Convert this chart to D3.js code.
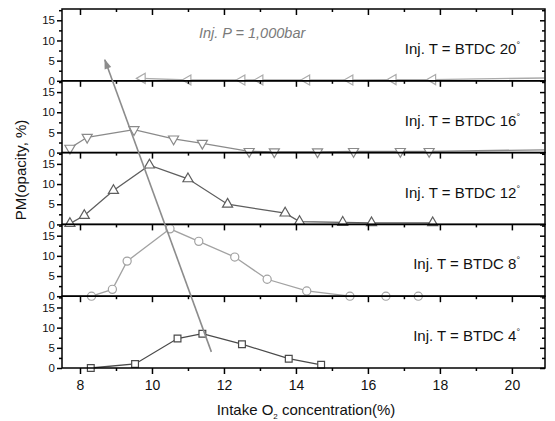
<!DOCTYPE html>
<html>
<head>
<meta charset="utf-8">
<script src="https://cdn.jsdelivr.net/npm/d3@7"></script>
<style>
    body { margin: 0; background: #fff; }
    text { font-family: "Liberation Sans", Arial, sans-serif; }
</style>
</head>
<body>
<svg id="chart" width="555" height="421"></svg>
<script>
// values, one panel per injection timing (top to bottom)
const timings = ['20', '16', '12', '8', '4'];

const o2_20 = [9.73, 11.0, 12.5, 13.0, 14.3, 15.5, 16.7, 17.8, 20.9];
const pm_20 = [0.6, 0.2, 0.2, 0.2, 0.2, 0.2, 0.3, 0.3, 0.7];

const o2_16 = [7.72, 8.2, 9.5, 10.6, 11.4, 12.7, 13.4, 14.6, 15.6, 16.9, 17.7, 20.9];
const pm_16 = [1.1, 3.8, 5.7, 3.4, 2.3, 0.3, 0.2, 0.2, 0.3, 0.3, 0.3, 0.7];

const o2_12 = [7.72, 8.12, 8.93, 9.93, 11.0, 12.1, 13.7, 14.1, 15.3, 16.1, 17.8];
const pm_12 = [0.2, 2.2, 8.4, 14.7, 11.3, 5.0, 2.8, 0.7, 0.5, 0.4, 0.4];

const o2_8 = [8.32, 8.9, 9.31, 10.5, 11.3, 12.3, 13.2, 14.3, 15.5, 16.5, 17.4];
const pm_8 = [0, 1.7, 8.7, 16.7, 13.6, 9.7, 4.2, 1.3, 0, 0, 0];

const o2_4 = [8.3, 9.53, 10.71, 11.4, 12.5, 13.8, 14.7];
const pm_4 = [0, 1.0, 7.3, 8.5, 5.9, 2.3, 0.8];

// trend arrow: from (O2, PM) in the BTDC 4 panel to (O2, PM) in the BTDC 20 panel
const arrowFrom = { o2: 11.65, pm: 4.0, panel: 4 };
const arrowTo = { o2: 8.69, pm: 5.2, panel: 0 };

const xTicks = [8, 10, 12, 14, 16, 18, 20];
const xMinor = [9, 11, 13, 15, 17, 19];
const yTicks = [0, 5, 10, 15];
const yMinor = [2.5, 7.5, 12.5, 17.5];

const panels = [
    { o2: o2_20, pm: pm_20, shape: 'left',   color: '#ababab' },
    { o2: o2_16, pm: pm_16, shape: 'down',   color: '#8a8a8a' },
    { o2: o2_12, pm: pm_12, shape: 'up',     color: '#5e5e5e' },
    { o2: o2_8,  pm: pm_8,  shape: 'circle', color: '#a2a2a2' },
    { o2: o2_4,  pm: pm_4,  shape: 'square', color: '#4a4a4a' }
];

const plotLeft = 62, plotRight = 545, plotTop = 9, plotBottom = 368;
const panelH = (plotBottom - plotTop) / panels.length;

const svg = d3.select('#chart');

const x = d3.scaleLinear().domain([7.5, 20.92]).range([plotLeft, plotRight]);

function yScale (i) {
    let y0 = plotTop + i * panelH;
    return d3.scaleLinear().domain([0, 17.8]).range([y0 + panelH, y0]);
}

function symbolFor (shape) {
    if (shape === 'circle') return d3.symbol(d3.symbolCircle, 52)();
    if (shape === 'square') return d3.symbol(d3.symbolSquare, 46)();
    return d3.symbol(d3.symbolTriangle, 44)();
}

function rotationFor (shape) {
    if (shape === 'down') return 180;
    if (shape === 'left') return -90;
    return 0;
}

svg.append('defs').append('marker')
    .attr('id', 'head')
    .attr('markerUnits', 'userSpaceOnUse')
    .attr('viewBox', '0 -5 10 10')
    .attr('refX', 9)
    .attr('refY', 0)
    .attr('markerWidth', 11)
    .attr('markerHeight', 10)
    .attr('orient', 'auto')
    .append('path')
    .attr('d', 'M0,-3.5L10,0L0,3.5Z')
    .attr('fill', '#8c8c8c');

panels.forEach(function (p, i) {
    let y = yScale(i);
    let g = svg.append('g');
    let pts = p.o2.map((v, k) => [v, p.pm[k]]);

    g.append('path')
        .datum(pts)
        .attr('fill', 'none')
        .attr('stroke', p.color)
        .attr('stroke-width', 1.3)
        .attr('d', d3.line().x(d => x(d[0])).y(d => y(d[1])));

    g.selectAll('.pt')
        .data(pts.filter(d => d[0] < 20.5))
        .enter().append('path')
        .attr('class', 'pt')
        .attr('d', symbolFor(p.shape))
        .attr('transform', d => 'translate(' + x(d[0]) + ',' + y(d[1]) + ') rotate(' + rotationFor(p.shape) + ')')
        .attr('fill', '#fff')
        .attr('stroke', p.color)
        .attr('stroke-width', 1.2);

    // left axis with labels
    g.append('g')
        .attr('transform', 'translate(' + plotLeft + ',0)')
        .call(d3.axisLeft(y).tickValues(yTicks).tickSize(5).tickPadding(2))
        .call(a => a.select('.domain').remove())
        .call(a => a.selectAll('text').attr('font-size', 11.5).attr('fill', '#111'));
    g.append('g')
        .attr('transform', 'translate(' + plotLeft + ',0)')
        .call(d3.axisLeft(y).tickValues(yMinor).tickSize(3).tickFormat(''))
        .call(a => a.select('.domain').remove());

    // right axis, ticks pointing in
    g.append('g')
        .attr('transform', 'translate(' + plotRight + ',0)')
        .call(d3.axisLeft(y).tickValues(yTicks).tickSize(5).tickFormat(''))
        .call(a => a.select('.domain').remove());
    g.append('g')
        .attr('transform', 'translate(' + plotRight + ',0)')
        .call(d3.axisLeft(y).tickValues(yMinor).tickSize(3).tickFormat(''))
        .call(a => a.select('.domain').remove());

    // top ticks pointing down into the panel
    let y0 = y.range()[1];
    g.append('g')
        .attr('transform', 'translate(0,' + y0 + ')')
        .call(d3.axisBottom(x).tickValues(xTicks).tickSize(6).tickFormat(''))
        .call(a => a.select('.domain').remove());
    g.append('g')
        .attr('transform', 'translate(0,' + y0 + ')')
        .call(d3.axisBottom(x).tickValues(xMinor).tickSize(3).tickFormat(''))
        .call(a => a.select('.domain').remove());

    g.append('rect')
        .attr('x', plotLeft)
        .attr('y', y0)
        .attr('width', plotRight - plotLeft)
        .attr('height', panelH)
        .attr('fill', 'none')
        .attr('stroke', '#000')
        .attr('stroke-width', 1.5);

    let label = g.append('text')
        .attr('x', 520)
        .attr('y', y0 + 45)
        .attr('text-anchor', 'end')
        .attr('font-size', 15)
        .attr('fill', '#111')
        .text('Inj. T = BTDC ' + timings[i]);
    label.append('tspan')
        .attr('dy', -6)
        .attr('font-size', 9)
        .text('°');
});

// bottom axis
svg.append('g')
    .attr('transform', 'translate(0,' + plotBottom + ')')
    .call(d3.axisBottom(x).tickValues(xTicks).tickSize(6).tickPadding(6))
    .call(a => a.select('.domain').remove())
    .call(a => a.selectAll('text').attr('font-size', 14).attr('fill', '#111'));
svg.append('g')
    .attr('transform', 'translate(0,' + plotBottom + ')')
    .call(d3.axisBottom(x).tickValues(xMinor).tickSize(3).tickFormat(''))
    .call(a => a.select('.domain').remove());

svg.selectAll('.tick line').attr('stroke', '#000').attr('stroke-width', 1.5);

// arrow
let yFrom = yScale(arrowFrom.panel), yTo = yScale(arrowTo.panel);
svg.append('line')
    .attr('x1', x(arrowFrom.o2))
    .attr('y1', yFrom(arrowFrom.pm))
    .attr('x2', x(arrowTo.o2))
    .attr('y2', yTo(arrowTo.pm))
    .attr('stroke', '#8c8c8c')
    .attr('stroke-width', 1.6)
    .attr('marker-end', 'url(#head)');

svg.append('text')
    .attr('x', 199)
    .attr('y', 38)
    .attr('font-size', 14.5)
    .attr('font-style', 'italic')
    .attr('fill', '#7a7a7a')
    .text('Inj. P = 1,000bar');

// axis titles
let xt = svg.append('text')
    .attr('x', 306)
    .attr('y', 415)
    .attr('text-anchor', 'middle')
    .attr('font-size', 15)
    .attr('fill', '#111');
xt.append('tspan').text('Intake O');
xt.append('tspan').attr('font-size', 8).attr('dy', 4).text('2');
xt.append('tspan').attr('dy', -4).text(' concentration(%)');

svg.append('text')
    .attr('transform', 'translate(26,170) rotate(-90)')
    .attr('text-anchor', 'middle')
    .attr('font-size', 15)
    .attr('fill', '#111')
    .text('PM(opacity, %)');
</script>
</body>
</html>
